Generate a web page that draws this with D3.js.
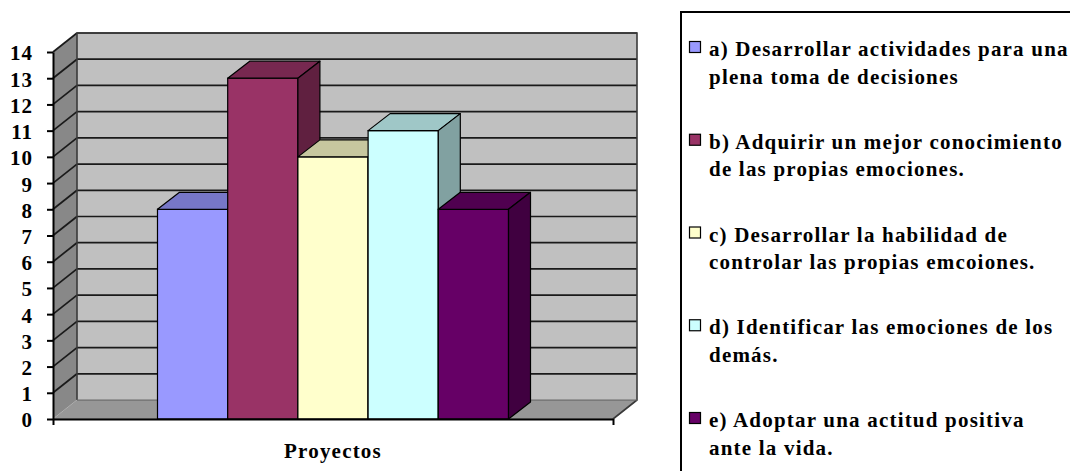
<!DOCTYPE html>
<html>
<head>
<meta charset="utf-8">
<script src="https://cdn.jsdelivr.net/npm/d3@7/dist/d3.min.js"></script>
<style>
  html, body { margin: 0; padding: 0; background: #fff; }
  svg { display: block; }
  text { font-family: "Liberation Serif", "Times New Roman", serif; font-weight: bold; }
</style>
</head>
<body>
<svg id="chart" width="1070" height="471"></svg>
<script>
// ---- data ----
const categories = ["Proyectos"];
const seriesKeys = ["a", "b", "c", "d", "e"];
const seriesValues = [8, 13, 10, 11, 8];
const seriesColors = ["#9999FF", "#993366", "#FFFFCC", "#CCFFFF", "#660066"];
const legendLines = [
  ["a) Desarrollar actividades para una", "plena toma de decisiones"],
  ["b) Adquirir un mejor conocimiento", "de las propias emociones."],
  ["c) Desarrollar la habilidad de", "controlar las propias emcoiones."],
  ["d) Identificar las emociones de los", "demás."],
  ["e) Adoptar una actitud positiva", "ante la vida."]
];
const yTicks = [0,1,2,3,4,5,6,7,8,9,10,11,12,13,14];

// ---- layout ----
const svg = d3.select("#chart");
const pL = 53, pR = 613, pB = 419, pT = 52;
const WDX = 24, WDY = -19;   // wall depth
const BDX = 22, BDY = -17;   // bar depth

const y = d3.scaleLinear().domain([0, 14]).range([pB, pT]);
const x0 = d3.scaleBand().domain(categories).range([pL, pR])
  .paddingInner(0).paddingOuter(0.2977);
const x1 = d3.scaleBand().domain(seriesKeys).range([0, x0.bandwidth()]).padding(0);

const g = svg.append("g");

// floor
g.append("polygon")
  .attr("points", [[pL, pB], [pR, pB], [pR + WDX, pB + WDY], [pL + WDX, pB + WDY]].join(" "))
  .attr("fill", "#979797").attr("stroke", "#7a7a7a").attr("stroke-width", 1);
// back wall
g.append("rect")
  .attr("x", pL + WDX).attr("y", y(14) + WDY)
  .attr("width", pR - pL).attr("height", y(0) - y(14))
  .attr("fill", "#C0C0C0");
// left wall
g.append("polygon")
  .attr("points", [[pL, pB], [pL, pT], [pL + WDX, pT + WDY], [pL + WDX, pB + WDY]].join(" "))
  .attr("fill", "#888888");

// gridlines
const grid = g.append("g");
yTicks.filter(v => v > 0).forEach(v => {
  grid.append("line")
    .attr("x1", pL + WDX).attr("x2", pR + WDX)
    .attr("y1", y(v) + WDY).attr("y2", y(v) + WDY)
    .attr("stroke", "#1a1a1a").attr("stroke-width", 1.7);
  grid.append("line")
    .attr("x1", pL).attr("x2", pL + WDX)
    .attr("y1", y(v)).attr("y2", y(v) + WDY)
    .attr("stroke", "#1a1a1a").attr("stroke-width", 1.7);
});
// wall borders
g.append("polyline")
  .attr("points", [[pL + WDX, pB + WDY], [pL + WDX, pT + WDY], [pR + WDX, pT + WDY], [pR + WDX, pB + WDY], [pR, pB]].join(" "))
  .attr("fill", "none").attr("stroke", "#3a3a3a").attr("stroke-width", 1.6);
g.append("line")
  .attr("x1", pL + WDX).attr("x2", pR + WDX)
  .attr("y1", pB + WDY).attr("y2", pB + WDY)
  .attr("stroke", "#6a6a6a").attr("stroke-width", 1.2);
g.append("line")
  .attr("x1", pL).attr("x2", pL + WDX)
  .attr("y1", pB).attr("y2", pB + WDY)
  .attr("stroke", "#b0b0b0").attr("stroke-width", 1);

// bars
const mul = (c, k) => { const r = d3.rgb(c); return d3.rgb(r.r * k, r.g * k, r.b * k).formatHex(); };
const bars = g.append("g").selectAll("g").data(seriesKeys).join("g");
bars.each(function(k, i) {
  const gb = d3.select(this);
  const xa = x0(categories[0]) + x1(k);
  const xb = xa + x1.bandwidth();
  const yt = y(seriesValues[i]);
  const yb = y(0);
  const col = seriesColors[i];
  gb.append("rect").attr("x", xa).attr("y", yt).attr("width", xb - xa).attr("height", yb - yt)
    .attr("fill", col).attr("stroke", "#000").attr("stroke-width", 1.2);
  gb.append("polygon")
    .attr("points", [[xa, yt], [xb, yt], [xb + BDX, yt + BDY], [xa + BDX, yt + BDY]].join(" "))
    .attr("fill", mul(col, 0.78)).attr("stroke", "#000").attr("stroke-width", 1.2).attr("stroke-linejoin", "round");
  gb.append("polygon")
    .attr("points", [[xb, yt], [xb + BDX, yt + BDY], [xb + BDX, yb + BDY], [xb, yb]].join(" "))
    .attr("fill", mul(col, 0.63)).attr("stroke", "#000").attr("stroke-width", 1.2).attr("stroke-linejoin", "round");
});

// y axis
const yAxis = g.append("g").attr("transform", `translate(${pL},0)`)
  .call(d3.axisLeft(y).tickValues(yTicks).tickFormat(d3.format("d")).tickSize(6).tickSizeOuter(0).tickPadding(14));
yAxis.select(".domain").attr("stroke", "#000").attr("stroke-width", 2);
yAxis.selectAll(".tick line").attr("stroke", "#000").attr("stroke-width", 2);
yAxis.selectAll(".tick text")
  .attr("fill", "#000").attr("font-size", 21).attr("letter-spacing", "1px")
  .attr("font-family", "Liberation Serif").attr("font-weight", "bold").attr("dy", "0.38em");

// x axis
const xLin = d3.scaleLinear().domain([0, 1]).range([pL, pR]);
const xAxis = g.append("g").attr("transform", `translate(0,${pB})`)
  .call(d3.axisBottom(xLin).tickValues([0, 1]).tickFormat("").tickSize(6).tickSizeOuter(0));
xAxis.select(".domain").attr("stroke", "#000").attr("stroke-width", 2);
xAxis.selectAll(".tick line").attr("stroke", "#000").attr("stroke-width", 2);

g.append("text")
  .attr("x", x0(categories[0]) + x0.bandwidth() / 2).attr("y", 458)
  .attr("text-anchor", "middle").attr("font-size", 21).attr("letter-spacing", "1.2px")
  .text(categories[0]);

// legend
const lg = svg.append("g");
lg.append("rect").attr("x", 681).attr("y", 12).attr("width", 420).attr("height", 480)
  .attr("fill", "#fff").attr("stroke", "#000").attr("stroke-width", 2);
const baseY = 56, itemStep = 92.75, lineStep = 27.5;
legendLines.forEach((lines, i) => {
  const by = baseY + i * itemStep;
  lg.append("rect").attr("x", 689.5).attr("y", by - 14.5).attr("width", 11).attr("height", 11)
    .attr("fill", seriesColors[i]).attr("stroke", "#000").attr("stroke-width", 1.2);
  lines.forEach((t, j) => {
    lg.append("text").attr("x", 709).attr("y", by + j * lineStep)
      .attr("font-size", 21).attr("letter-spacing", "1.2px").attr("fill", "#000").text(t);
  });
});
</script>
</body>
</html>
